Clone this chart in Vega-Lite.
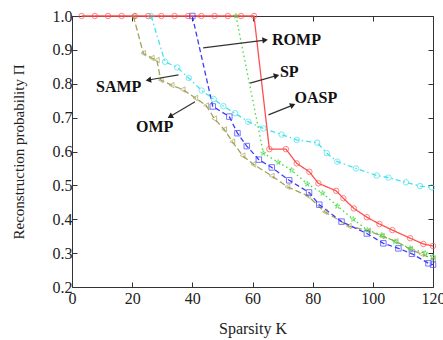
{
  "$schema": "https://vega.github.io/schema/vega-lite/v6.json",
  "autosize": "none",
  "width": 361,
  "height": 271,
  "padding": {"left": 72, "top": 16, "right": 10, "bottom": 53},
  "background": "white",
  "config": {"view": {"stroke": null}, "font": "Liberation Serif"},
  "datasets": {
    "curves": [
      {"method": "OMP", "K": 20.4, "P": 1.0},
      {"method": "OMP", "K": 23.7, "P": 0.89},
      {"method": "OMP", "K": 26.5, "P": 0.876},
      {"method": "OMP", "K": 28.2, "P": 0.87},
      {"method": "OMP", "K": 29.5, "P": 0.811},
      {"method": "OMP", "K": 33.1, "P": 0.796},
      {"method": "OMP", "K": 36.8, "P": 0.783},
      {"method": "OMP", "K": 41.0, "P": 0.758},
      {"method": "OMP", "K": 44.6, "P": 0.736},
      {"method": "OMP", "K": 47.3, "P": 0.697},
      {"method": "OMP", "K": 50.6, "P": 0.665},
      {"method": "OMP", "K": 53.3, "P": 0.629},
      {"method": "OMP", "K": 56.7, "P": 0.588},
      {"method": "OMP", "K": 60.3, "P": 0.562},
      {"method": "OMP", "K": 66.4, "P": 0.528},
      {"method": "OMP", "K": 71.6, "P": 0.496},
      {"method": "OMP", "K": 78.4, "P": 0.469},
      {"method": "OMP", "K": 84.0, "P": 0.422},
      {"method": "OMP", "K": 92.0, "P": 0.38},
      {"method": "OMP", "K": 98.5, "P": 0.366},
      {"method": "OMP", "K": 103.0, "P": 0.35},
      {"method": "OMP", "K": 107.6, "P": 0.335},
      {"method": "OMP", "K": 112.4, "P": 0.312},
      {"method": "OMP", "K": 116.2, "P": 0.297},
      {"method": "OMP", "K": 120.0, "P": 0.282},
      {"method": "SAMP", "K": 26.3, "P": 1.0},
      {"method": "SAMP", "K": 30.9, "P": 0.865},
      {"method": "SAMP", "K": 35.0, "P": 0.848},
      {"method": "SAMP", "K": 38.8, "P": 0.817},
      {"method": "SAMP", "K": 43.1, "P": 0.78},
      {"method": "SAMP", "K": 47.1, "P": 0.755},
      {"method": "SAMP", "K": 50.3, "P": 0.734},
      {"method": "SAMP", "K": 54.2, "P": 0.713},
      {"method": "SAMP", "K": 58.6, "P": 0.688},
      {"method": "SAMP", "K": 63.6, "P": 0.668},
      {"method": "SAMP", "K": 69.7, "P": 0.65},
      {"method": "SAMP", "K": 74.7, "P": 0.634},
      {"method": "SAMP", "K": 81.5, "P": 0.626},
      {"method": "SAMP", "K": 84.7, "P": 0.595},
      {"method": "SAMP", "K": 88.2, "P": 0.57},
      {"method": "SAMP", "K": 94.4, "P": 0.55},
      {"method": "SAMP", "K": 101.3, "P": 0.529},
      {"method": "SAMP", "K": 105.2, "P": 0.523},
      {"method": "SAMP", "K": 111.0, "P": 0.509},
      {"method": "SAMP", "K": 115.7, "P": 0.498},
      {"method": "SAMP", "K": 119.6, "P": 0.494},
      {"method": "ROMP", "K": 40.0, "P": 1.0},
      {"method": "ROMP", "K": 46.8, "P": 0.733},
      {"method": "ROMP", "K": 52.3, "P": 0.703},
      {"method": "ROMP", "K": 55.0, "P": 0.654},
      {"method": "ROMP", "K": 58.1, "P": 0.616},
      {"method": "ROMP", "K": 62.1, "P": 0.576},
      {"method": "ROMP", "K": 66.4, "P": 0.553},
      {"method": "ROMP", "K": 72.2, "P": 0.515},
      {"method": "ROMP", "K": 78.8, "P": 0.479},
      {"method": "ROMP", "K": 82.2, "P": 0.443},
      {"method": "ROMP", "K": 89.6, "P": 0.393},
      {"method": "ROMP", "K": 98.0, "P": 0.358},
      {"method": "ROMP", "K": 103.5, "P": 0.329},
      {"method": "ROMP", "K": 108.5, "P": 0.314},
      {"method": "ROMP", "K": 113.0, "P": 0.298},
      {"method": "ROMP", "K": 118.5, "P": 0.27},
      {"method": "ROMP", "K": 120.0, "P": 0.266},
      {"method": "SP", "K": 54.5, "P": 1.0},
      {"method": "SP", "K": 63.6, "P": 0.595},
      {"method": "SP", "K": 68.6, "P": 0.568},
      {"method": "SP", "K": 73.0, "P": 0.545},
      {"method": "SP", "K": 78.2, "P": 0.504},
      {"method": "SP", "K": 83.3, "P": 0.477},
      {"method": "SP", "K": 88.2, "P": 0.439},
      {"method": "SP", "K": 93.5, "P": 0.4},
      {"method": "SP", "K": 98.2, "P": 0.368},
      {"method": "SP", "K": 103.0, "P": 0.353},
      {"method": "SP", "K": 107.4, "P": 0.334},
      {"method": "SP", "K": 112.4, "P": 0.314},
      {"method": "SP", "K": 117.4, "P": 0.3},
      {"method": "SP", "K": 120.0, "P": 0.289},
      {"method": "OASP", "K": 3.2, "P": 1.0},
      {"method": "OASP", "K": 7.6, "P": 1.0},
      {"method": "OASP", "K": 12.0, "P": 1.0},
      {"method": "OASP", "K": 16.5, "P": 1.0},
      {"method": "OASP", "K": 20.9, "P": 1.0},
      {"method": "OASP", "K": 25.3, "P": 1.0},
      {"method": "OASP", "K": 29.7, "P": 1.0},
      {"method": "OASP", "K": 34.1, "P": 1.0},
      {"method": "OASP", "K": 38.6, "P": 1.0},
      {"method": "OASP", "K": 43.0, "P": 1.0},
      {"method": "OASP", "K": 47.4, "P": 1.0},
      {"method": "OASP", "K": 51.8, "P": 1.0},
      {"method": "OASP", "K": 56.2, "P": 1.0},
      {"method": "OASP", "K": 60.5, "P": 1.0},
      {"method": "OASP", "K": 65.6, "P": 0.607},
      {"method": "OASP", "K": 71.1, "P": 0.607},
      {"method": "OASP", "K": 74.7, "P": 0.565},
      {"method": "OASP", "K": 78.9, "P": 0.54},
      {"method": "OASP", "K": 81.9, "P": 0.506},
      {"method": "OASP", "K": 87.8, "P": 0.484},
      {"method": "OASP", "K": 90.2, "P": 0.462},
      {"method": "OASP", "K": 93.7, "P": 0.432},
      {"method": "OASP", "K": 98.0, "P": 0.406},
      {"method": "OASP", "K": 102.2, "P": 0.386},
      {"method": "OASP", "K": 106.5, "P": 0.368},
      {"method": "OASP", "K": 112.4, "P": 0.344},
      {"method": "OASP", "K": 116.8, "P": 0.327},
      {"method": "OASP", "K": 120.0, "P": 0.321}
    ],
    "notes": [
      {"label": "ROMP", "x1": 43.6, "y1": 0.906, "x2": 64.2, "y2": 0.929, "tx": 66.5, "ty": 0.929},
      {"label": "SP", "x1": 59.2, "y1": 0.802, "x2": 68.0, "y2": 0.824, "tx": 69.1, "ty": 0.836},
      {"label": "OASP", "x1": 65.3, "y1": 0.708, "x2": 73.4, "y2": 0.737, "tx": 74.0, "ty": 0.757},
      {"label": "SAMP", "x1": 35.4, "y1": 0.826, "x2": 25.4, "y2": 0.811, "tx": 8.0, "ty": 0.791},
      {"label": "OMP", "x1": 40.9, "y1": 0.747, "x2": 32.6, "y2": 0.703, "tx": 21.3, "ty": 0.671}
    ]
  },
  "resolve": {"axis": {"x": "independent", "y": "independent"}},
  "layer": [
    {
      "data": {"name": "curves"},
      "mark": {"type": "line", "strokeWidth": 1.3},
      "encoding": {
        "x": {"field": "K", "type": "quantitative",
          "scale": {"domain": [0, 120], "nice": false, "zero": false},
          "axis": {"orient": "bottom", "values": [0, 20, 40, 60, 80, 100, 120], "tickSize": -5, "labelPadding": 8,
            "title": "Sparsity K", "titlePadding": 14, "titleFontWeight": "normal", "labelFont": "Liberation Serif",
            "labelFontSize": 16, "titleFont": "Liberation Serif", "titleFontSize": 16, "domainColor": "#333",
            "tickColor": "#333", "labelColor": "#222", "titleColor": "#222", "grid": false, "labelFlush": false}},
        "y": {"field": "P", "type": "quantitative",
          "scale": {"domain": [0.2, 1.0], "nice": false, "zero": false},
          "axis": {"orient": "left", "values": [0.2, 0.3, 0.4, 0.5, 0.6, 0.7, 0.8, 0.9, 1.0], "format": ".1f", "tickSize": -5,
            "labelPadding": 5, "title": "Reconstruction probability Π", "titlePadding": 26, "titleFontWeight": "normal",
            "labelFont": "Liberation Serif", "labelFontSize": 16, "titleFont": "Liberation Serif", "titleFontSize": 15,
            "domainColor": "#333", "tickColor": "#333", "labelColor": "#222", "titleColor": "#222", "grid": false, "labelFlush": false}},
        "color": {"field": "method", "type": "nominal", "legend": null,
          "scale": {"domain": ["OMP", "SAMP", "ROMP", "SP", "OASP"], "range": ["#a3a35a", "#3fe3ef", "#3b3bff", "#3cdc3c", "#ff4f4f"]}},
        "strokeDash": {"field": "method", "type": "nominal", "legend": null,
          "scale": {"domain": ["OMP", "SAMP", "ROMP", "SP", "OASP"], "range": [[6, 3], [5, 3, 1.5, 3], [5, 3], [1.5, 3], [1, 0]]}}
      }
    },
    {
      "data": {"name": "curves"},
      "mark": {"type": "point", "filled": false, "size": 30, "strokeWidth": 1.0},
      "encoding": {
        "x": {"field": "K", "type": "quantitative",
          "axis": {"orient": "top", "values": [0, 20, 40, 60, 80, 100, 120], "tickSize": -5, "labels": false, "title": null,
            "domainColor": "#333", "tickColor": "#333", "grid": false}},
        "y": {"field": "P", "type": "quantitative",
          "axis": {"orient": "right", "values": [0.2, 0.3, 0.4, 0.5, 0.6, 0.7, 0.8, 0.9, 1.0], "tickSize": -5, "labels": false,
            "title": null, "domainColor": "#333", "tickColor": "#333", "grid": false}},
        "color": {"field": "method", "type": "nominal", "legend": null},
        "shape": {"field": "method", "type": "nominal", "legend": null,
          "scale": {"domain": ["OMP", "SAMP", "ROMP", "SP", "OASP"],
            "range": ["triangle-left", "circle", "square", "M0,-1L0.2245,-0.309L0.951,-0.309L0.3633,0.118L0.5878,0.809L0,0.382L-0.5878,0.809L-0.3633,0.118L-0.951,-0.309L-0.2245,-0.309Z", "circle"]}}
      }
    },
    {
      "data": {"name": "notes"},
      "mark": {"type": "rule", "color": "#333", "strokeWidth": 1.2},
      "encoding": {
        "x": {"field": "x1", "type": "quantitative", "axis": null},
        "y": {"field": "y1", "type": "quantitative", "axis": null},
        "x2": {"field": "x2"},
        "y2": {"field": "y2"}
      }
    },
    {
      "data": {"name": "notes"},
      "transform": [
        {"calculate": "-atan2((datum.y2 - datum.y1) * 338.75, (datum.x2 - datum.x1) * 3.008) * 180 / PI", "as": "ang"}
      ],
      "mark": {"type": "point", "shape": "triangle-right", "filled": true, "color": "#222", "size": 40, "opacity": 1},
      "encoding": {
        "x": {"field": "x2", "type": "quantitative", "axis": null},
        "y": {"field": "y2", "type": "quantitative", "axis": null},
        "angle": {"field": "ang", "type": "quantitative", "scale": null}
      }
    },
    {
      "data": {"name": "notes"},
      "mark": {"type": "text", "align": "left", "baseline": "middle", "font": "Liberation Serif", "fontWeight": "bold", "fontSize": 16, "color": "#111"},
      "encoding": {
        "x": {"field": "tx", "type": "quantitative", "axis": null},
        "y": {"field": "ty", "type": "quantitative", "axis": null},
        "text": {"field": "label"}
      }
    }
  ]
}
